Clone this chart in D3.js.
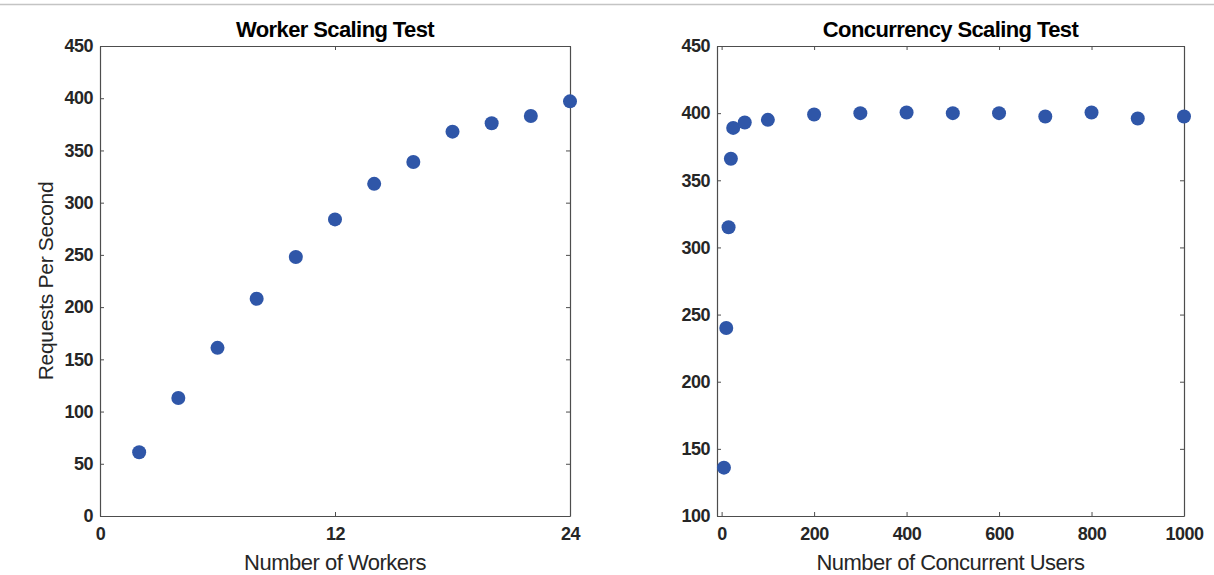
<!DOCTYPE html>
<html>
<head>
<meta charset="utf-8">
<script src="https://cdn.jsdelivr.net/npm/d3@7"></script>
<style>
  body { margin: 0; background: #fff; }
  svg { display: block; font-family: "Liberation Sans", Arial, sans-serif; }
  .tick text { font-size: 18px; font-weight: bold; fill: #262626; letter-spacing: -0.5px; }
  .domain, .tick line { stroke: #4d4d4d; }
</style>
</head>
<body>
<svg width="1214" height="575"></svg>
<script>
// worker scaling test
const workers = [2, 4, 6, 8, 10, 12, 14, 16, 18, 20, 22, 24];
const workerRps = [61, 113, 161, 208, 248, 284, 318, 339, 368, 376, 383, 397];
const workerXTicks = [0, 12, 24];
const workerYTicks = [0, 50, 100, 150, 200, 250, 300, 350, 400, 450];

// concurrency scaling test
const users = [5, 10, 15, 20, 25, 50, 100, 200, 300, 400, 500, 600, 700, 800, 900, 1000];
const usersRps = [136, 240, 315, 366, 389, 393, 395, 399, 400, 400.5, 400, 400, 397.5, 400.5, 396, 397.5];
const usersXTicks = [0, 200, 400, 600, 800, 1000];
const usersYTicks = [100, 150, 200, 250, 300, 350, 400, 450];

const svg = d3.select("svg");
const dotColor = "#2f56a8";

// ligne grise en haut
svg.append("line")
    .attr("x1", 0).attr("x2", 1214)
    .attr("y1", 4.5).attr("y2", 4.5)
    .attr("stroke", "#c4c4c4")
    .attr("stroke-width", 1.5);

const drawPanel = (opts) => {
    const { left, right, top, bottom, xDomain, yDomain, xs, ys, xTicks, yTicks, title, xLabel, yLabel } = opts;
    const x = d3.scaleLinear().domain(xDomain).range([left, right]);
    const y = d3.scaleLinear().domain(yDomain).range([bottom, top]);
    const g = svg.append("g");
    const fmt = d3.format("d");

    // axes (ticks vers l'intérieur)
    g.append("g").attr("transform", `translate(0,${bottom})`)
        .call(d3.axisBottom(x).tickValues(xTicks).tickFormat(fmt).tickSizeInner(-4).tickSizeOuter(0).tickPadding(11));
    g.append("g").attr("transform", `translate(0,${top})`)
        .call(d3.axisTop(x).tickValues(xTicks).tickSizeInner(-4).tickSizeOuter(0).tickFormat(""));
    g.append("g").attr("transform", `translate(${left},0)`)
        .call(d3.axisLeft(y).tickValues(yTicks).tickFormat(fmt).tickSizeInner(-4).tickSizeOuter(0).tickPadding(7));
    g.append("g").attr("transform", `translate(${right},0)`)
        .call(d3.axisRight(y).tickValues(yTicks).tickSizeInner(-4).tickSizeOuter(0).tickFormat(""));
    g.selectAll(".domain").attr("stroke-width", 1.2);

    g.selectAll("circle")
        .data(xs)
        .join("circle")
        .attr("cx", d => x(d))
        .attr("cy", (d, i) => y(ys[i]))
        .attr("r", 7)
        .attr("fill", dotColor);

    const cx = (left + right) / 2;
    g.append("text")
        .attr("x", cx).attr("y", top - 9)
        .attr("text-anchor", "middle")
        .attr("font-size", 22).attr("font-weight", "bold")
        .attr("letter-spacing", "-0.6px")
        .attr("fill", "#000")
        .text(title);
    g.append("text")
        .attr("x", cx).attr("y", bottom + 54)
        .attr("text-anchor", "middle")
        .attr("font-size", 22)
        .attr("letter-spacing", "-0.5px")
        .attr("fill", "#262626")
        .text(xLabel);
    if (yLabel) {
        g.append("text")
            .attr("transform", `translate(${left - 47},${(top + bottom) / 2}) rotate(-90)`)
            .attr("text-anchor", "middle")
            .attr("font-size", 21)
            .attr("letter-spacing", "-0.3px")
            .attr("fill", "#262626")
            .text(yLabel);
    }
};

drawPanel({
    left: 100, right: 570, top: 46, bottom: 516,
    xDomain: [0, 24], yDomain: [0, 450],
    xs: workers, ys: workerRps,
    xTicks: workerXTicks, yTicks: workerYTicks,
    title: "Worker Scaling Test",
    xLabel: "Number of Workers",
    yLabel: "Requests Per Second"
});

drawPanel({
    left: 717, right: 1184, top: 46, bottom: 516,
    xDomain: [-10, 1000], yDomain: [100, 450],
    xs: users, ys: usersRps,
    xTicks: usersXTicks, yTicks: usersYTicks,
    title: "Concurrency Scaling Test",
    xLabel: "Number of Concurrent Users",
    yLabel: null
});
</script>
</body>
</html>
